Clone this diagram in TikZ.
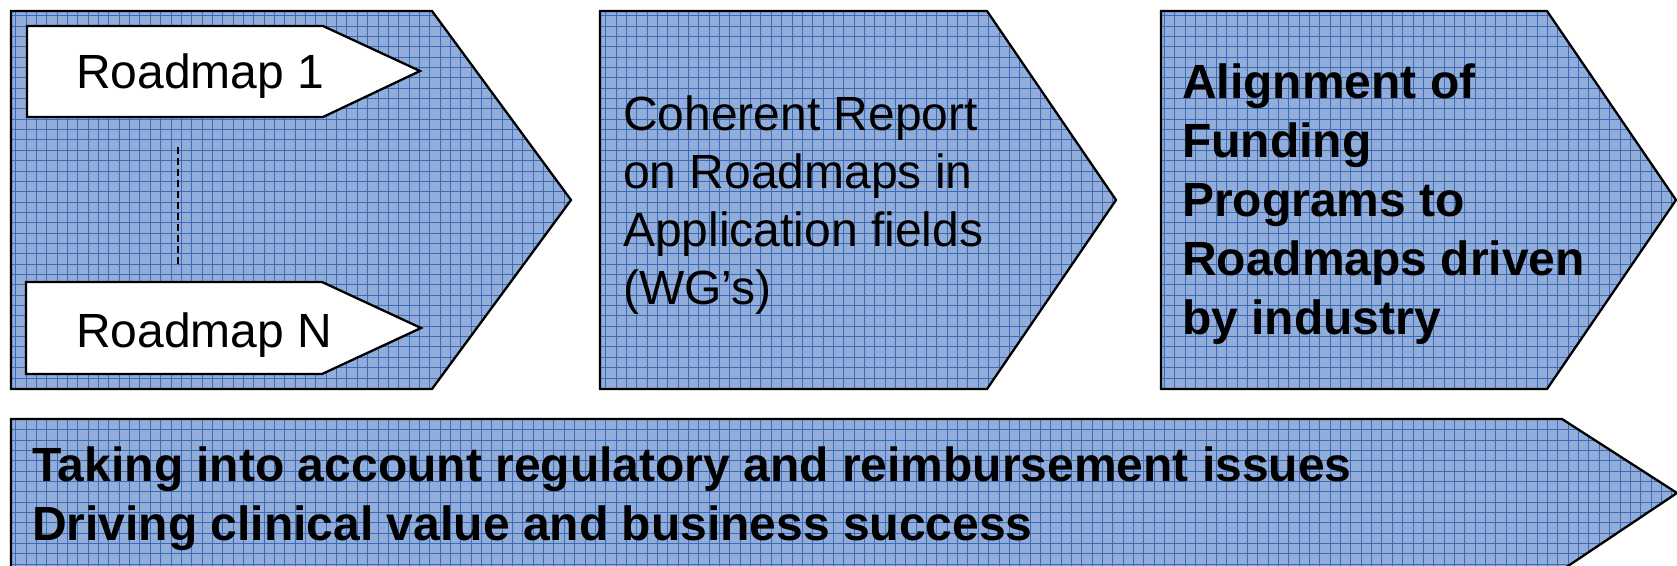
\documentclass[tikz,border=0pt]{standalone}
\usepackage{fontspec}
\setmainfont{Liberation Sans}
\definecolor{basefillc}{RGB}{146,173,217}
\definecolor{gridc}{RGB}{60,108,182}
\tikzset{
  basefill/.style={fill=basefillc},
  gridline/.style={draw=gridc, line width=0.9pt},
  outline/.style={draw=black, line width=2.3pt, line join=miter},
  whitearrow/.style={fill=white, draw=black, line width=2.3pt},
  txt/.style={anchor=base west, inner sep=0pt, font=\fontsize{48}{58}\selectfont},
  btxt/.style={txt, font=\fontsize{48}{58}\selectfont\bfseries},
  dashline/.style={draw=black, line width=2.5pt, dash pattern=on 7pt off 4pt}
}
\newcommand{\blueshape}[1]{%
  \fill[basefill] #1;
  \begin{scope}
    \clip #1;
    \foreach \gx in {0,...,163} {\draw[gridline] (5.35+10.35*\gx,0) -- (5.35+10.35*\gx,580);}
    \foreach \gy in {0,...,56} {\draw[gridline] (0,5.35+10.35*\gy) -- (1680,5.35+10.35*\gy);}
  \end{scope}
  \draw[outline] #1;}
\begin{document}
\begin{tikzpicture}[x=1pt,y=-1pt]
\useasboundingbox[fill=white] (0,0) rectangle (1677,565);
% top chevrons
\blueshape{(11,11) -- (432,11) -- (571,200) -- (432,389) -- (11,389) -- cycle}
\blueshape{(600,11) -- (987,11) -- (1116,200) -- (987,389) -- (600,389) -- cycle}
\blueshape{(1161,11) -- (1547,11) -- (1676,200) -- (1547,389) -- (1161,389) -- cycle}
% bottom arrow
\blueshape{(11,419) -- (1562,419) -- (1677,493) -- (1562,570) -- (11,570) -- cycle}
% white roadmap arrows
\draw[whitearrow] (27,26) -- (323,26) -- (420,71) -- (323,117) -- (27,117) -- cycle;
\draw[whitearrow] (26,282) -- (322,282) -- (421,328) -- (322,374) -- (26,374) -- cycle;
\node[txt] (r1) at (76,88) {Roadmap 1};
\node[txt] (rn) at (76,347) {Roadmap N};
\coordinate (d1) at (178,147);
\coordinate (d2) at (178,266);
\draw[dashline] (d1) -- (d2);
% middle text
\node[txt] (c1) at (623,130) {Coherent Report};
\node[txt] (c2) at (623,188) {on Roadmaps in};
\node[txt] (c3) at (623,246) {Application fields};
\node[txt] (c4) at (623,304) {(WG’s)};
% right text
\node[btxt] (a1) at (1182,98) {Alignment of};
\node[btxt] (a2) at (1182,157) {Funding};
\node[btxt] (a3) at (1182,216) {Programs to};
\node[btxt] (a4) at (1182,275) {Roadmaps driven};
\node[btxt] (a5) at (1182,334) {by industry};
% bottom text
\node[btxt] (b1) at (32,481) {Taking into account regulatory and reimbursement issues};
\node[btxt] (b2) at (32,540) {Driving clinical value and business success};
\end{tikzpicture}
\end{document}
